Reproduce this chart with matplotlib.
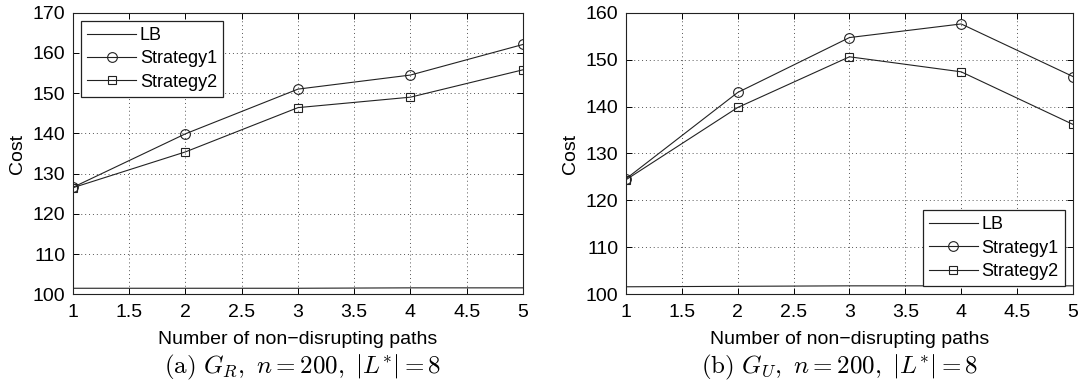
import matplotlib
matplotlib.use("Agg")
import matplotlib.pyplot as plt

plt.rcParams["font.family"] = ["Liberation Sans", "DejaVu Sans"]
plt.rcParams["mathtext.fontset"] = "cm"

paths = [1, 2, 3, 4, 5]

# (a) G_R
lb_r = [101.5, 101.5, 101.5, 101.6, 101.6]
s1_r = [126.6, 139.9, 151.0, 154.5, 162.1]
s2_r = [126.5, 135.4, 146.4, 149.0, 155.8]

# (b) G_U
lb_u = [101.6, 101.7, 101.8, 101.8, 101.8]
s1_u = [124.6, 143.0, 154.7, 157.6, 146.4]
s2_u = [124.4, 139.8, 150.6, 147.4, 136.2]

captions = [r"$\mathrm{(a)}\ G_R,\ n = 200,\ |L^{*}| = 8$",
            r"$\mathrm{(b)}\ G_U,\ n = 200,\ |L^{*}| = 8$"]

fig = plt.figure(figsize=(10.83, 3.82), dpi=100)
ax_a = fig.add_axes([0.0674, 0.2296, 0.4155, 0.7372])
ax_b = fig.add_axes([0.578, 0.2296, 0.4127, 0.7372])

line_kw = dict(color="#222222", linewidth=0.8, markerfacecolor="none",
               markeredgecolor="#222222", markeredgewidth=0.8)

panels = [
    (ax_a, lb_r, s1_r, s2_r, (100, 170), "upper left"),
    (ax_b, lb_u, s1_u, s2_u, (100, 160), "lower right"),
]

for i, (ax, lb, s1, s2, ylim, loc) in enumerate(panels):
    ax.plot(paths, lb, label="LB", **line_kw)
    ax.plot(paths, s1, marker="o", markersize=7, label="Strategy1", **line_kw)
    ax.plot(paths, s2, marker="s", markersize=6, label="Strategy2", **line_kw)
    ax.set_xlim(1, 5)
    ax.set_ylim(*ylim)
    ax.set_xticks([1, 1.5, 2, 2.5, 3, 3.5, 4, 4.5, 5])
    ax.set_xticklabels(["1", "1.5", "2", "2.5", "3", "3.5", "4", "4.5", "5"])
    ax.grid(True, linestyle=(0, (1, 3)), color="#555555", linewidth=0.7)
    ax.tick_params(direction="in", top=True, right=True, labelsize=14,
                   length=4, width=0.7)
    ax.tick_params(axis="x", pad=7)
    ax.tick_params(axis="y", pad=5.5)
    for sp in ax.spines.values():
        sp.set_linewidth(0.8)
        sp.set_color("#222222")
    ax.set_ylabel("Cost", fontsize=14, labelpad=5)
    ax.set_xlabel("Number of non\u2212disrupting paths", fontsize=14, labelpad=7)
    leg = ax.legend(loc=loc, fontsize=13, fancybox=False, framealpha=1,
                    edgecolor="#222222", handlelength=2.7, borderpad=0.35,
                    labelspacing=0.35, handletextpad=0.2, borderaxespad=0.45)
    leg.get_frame().set_linewidth(0.9)

fig.text(0.279, 0.037, captions[0], ha="center", va="center", fontsize=18)
fig.text(0.775, 0.037, captions[1], ha="center", va="center", fontsize=18)

fig.savefig("out.png", dpi=100)
